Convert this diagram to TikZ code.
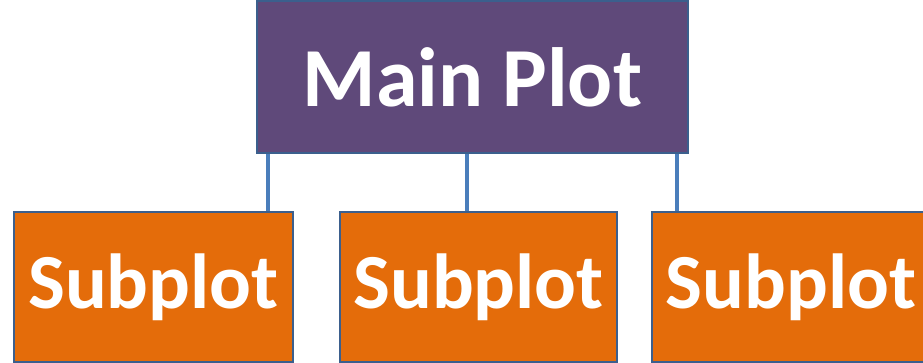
\documentclass[tikz,border=0pt]{standalone}
\usepackage{fontspec}
\setmainfont{Carlito}
\definecolor{mainfill}{HTML}{5F497A}
\definecolor{subfill}{HTML}{E46C0A}
\definecolor{edgeblue}{HTML}{3B5F8D}
\definecolor{linkblue}{HTML}{4A7EBB}
\tikzset{
  mainbox/.style={draw=edgeblue, line width=2pt, fill=mainfill, text=white,
    font=\fontsize{84}{84}\selectfont\bfseries, inner sep=0pt},
  subbox/.style={draw=edgeblue, line width=2pt, fill=subfill, text=white,
    font=\fontsize{78}{78}\selectfont\bfseries, inner sep=0pt,
    minimum height=150pt},
  link/.style={draw=linkblue, line width=3.4pt}
}
\begin{document}
\begin{tikzpicture}[x=1pt,y=1pt]
  \useasboundingbox (0,0) rectangle (923,-363);
  \clip (0,0) rectangle (923,-363);
  \fill[white] (0,0) rectangle (923,-363);
  % top-level box
  \node[mainbox, minimum width=431pt, minimum height=152pt] (main) at (472.5,-77.5) {Main Plot};
  % second level
  \node[subbox, minimum width=279pt] (sub1) at (153.5,-287) {Subplot};
  \node[subbox, minimum width=277pt] (sub2) at (478.5,-287) {Subplot};
  \node[subbox, minimum width=278pt] (sub3) at (791,-287) {Subplot};
  % connectors
  \draw[link] ([xshift=12pt]main.south west) -- ([xshift=12pt]main.south west |- sub1.north);
  \draw[link] ([xshift=-5.5pt]main.south) -- ([xshift=-5.5pt]main.south |- sub2.north);
  \draw[link] ([xshift=-12pt]main.south east) -- ([xshift=-12pt]main.south east |- sub3.north);
\end{tikzpicture}
\end{document}
